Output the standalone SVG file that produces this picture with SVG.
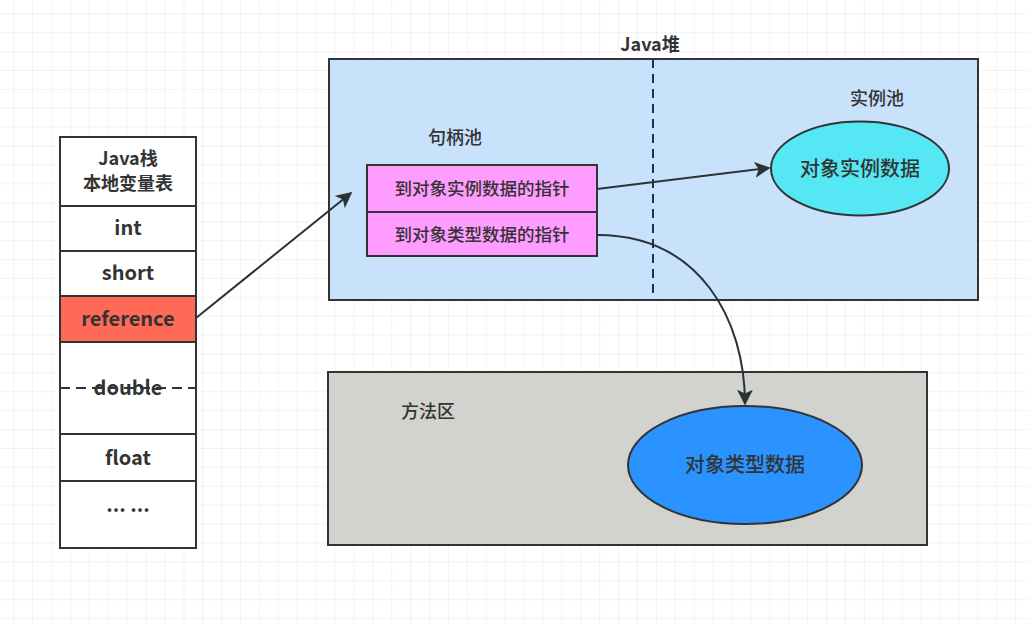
<svg xmlns="http://www.w3.org/2000/svg" width="1029" height="624" viewBox="0 0 1029 624">
  <defs>
    <pattern id="grid" x="13.3" y="13.3" width="18.9" height="18.9" patternUnits="userSpaceOnUse">
      <path d="M0,0 H18.9 M0,0 V18.9" fill="none" stroke="#e8e8e8" stroke-width="1"/>
    </pattern>
    <marker id="arrL" viewBox="0 0 10 10" refX="9" refY="5" markerWidth="16" markerHeight="16" markerUnits="userSpaceOnUse" orient="auto">
      <path d="M0,0 L10,5 L0,10 L2.5,5 Z" fill="#2a3436"/>
    </marker>
    <style>
      text { font-family: "Noto Sans CJK SC", "Liberation Sans", sans-serif; fill: #333; text-anchor: middle; }
      .cell { fill: #fff; stroke: #333; stroke-width: 2; }
      .lbl { font-size: 20px; font-weight: bold; }
      .hd { font-size: 18px; font-weight: bold; }
      .cn { font-size: 18px; font-weight: 500; }
      .ptr { fill: #ff9cff; stroke: #333; stroke-width: 2; }
      .ptrt { font-size: 17.5px; font-weight: 500; }
      .conn { fill: none; stroke: #2a3436; stroke-width: 2; }
    </style>
  </defs>
  <rect width="1029" height="624" fill="#fff"/>
  <rect width="1029" height="624" fill="url(#grid)"/>

  <g id="stack">
    <rect class="cell" x="60" y="137" width="136" height="411"/>
    <rect class="cell" x="60" y="137" width="136" height="69"/>
    <text class="hd" x="128" y="165">Java栈</text>
    <text class="hd" x="128" y="190">本地变量表</text>
    <rect class="cell" x="60" y="206" width="136" height="45"/>
    <text class="lbl" x="128" y="235">int</text>
    <rect class="cell" x="60" y="251" width="136" height="45"/>
    <text class="lbl" x="128" y="280">short</text>
    <rect x="60" y="296" width="136" height="46" fill="#ff6a58" stroke="#333" stroke-width="2"/>
    <text class="lbl" x="128" y="326">reference</text>
    <rect class="cell" x="60" y="342" width="136" height="92"/>
    <text class="lbl" x="128" y="395">double</text>
    <line x1="60" y1="388" x2="196" y2="388" stroke="#333" stroke-width="2" stroke-dasharray="10,6"/>
    <rect class="cell" x="60" y="434" width="136" height="47"/>
    <text class="lbl" x="128" y="465">float</text>
    <text class="lbl" x="128" y="512">... ...</text>
  </g>

  <g id="heap">
    <rect x="329" y="59" width="649" height="241" fill="#c8e2fb" stroke="#333" stroke-width="2"/>
    <line x1="653" y1="59" x2="653" y2="300" stroke="#1b3350" stroke-width="2" stroke-dasharray="9,6"/>
    <text x="650" y="51" font-size="18" font-weight="bold">Java堆</text>
    <text class="cn" x="455" y="144">句柄池</text>
    <text class="cn" x="877" y="105">实例池</text>
  </g>

  <g id="pointers">
    <rect class="ptr" x="367" y="165" width="230" height="47"/>
    <text class="ptrt" x="482" y="195">到对象实例数据的指针</text>
    <rect class="ptr" x="367" y="212" width="230" height="44"/>
    <text class="ptrt" x="482" y="241">到对象类型数据的指针</text>
  </g>

  <g id="instance-data">
    <ellipse cx="860" cy="168.5" rx="89" ry="47" fill="#55e8f4" stroke="#333" stroke-width="2"/>
    <text x="860" y="176" font-size="20" font-weight="500">对象实例数据</text>
  </g>

  <g id="method-area">
    <rect x="328" y="372" width="599" height="173" fill="#d2d2cf" stroke="#333" stroke-width="2"/>
    <text class="cn" x="428" y="418">方法区</text>
  </g>

  <g id="type-data">
    <ellipse cx="745" cy="465" rx="117" ry="59" fill="#2a93ff" stroke="#333" stroke-width="2"/>
    <text x="745" y="472" font-size="20" font-weight="500">对象类型数据</text>
  </g>

  <g id="connectors">
    <line class="conn" x1="196" y1="318" x2="351" y2="193" marker-end="url(#arrL)"/>
    <line class="conn" x1="597" y1="189" x2="769" y2="168" marker-end="url(#arrL)"/>
    <path class="conn" d="M597,235 C700,235 745,320 745,404" marker-end="url(#arrL)"/>
  </g>
</svg>
